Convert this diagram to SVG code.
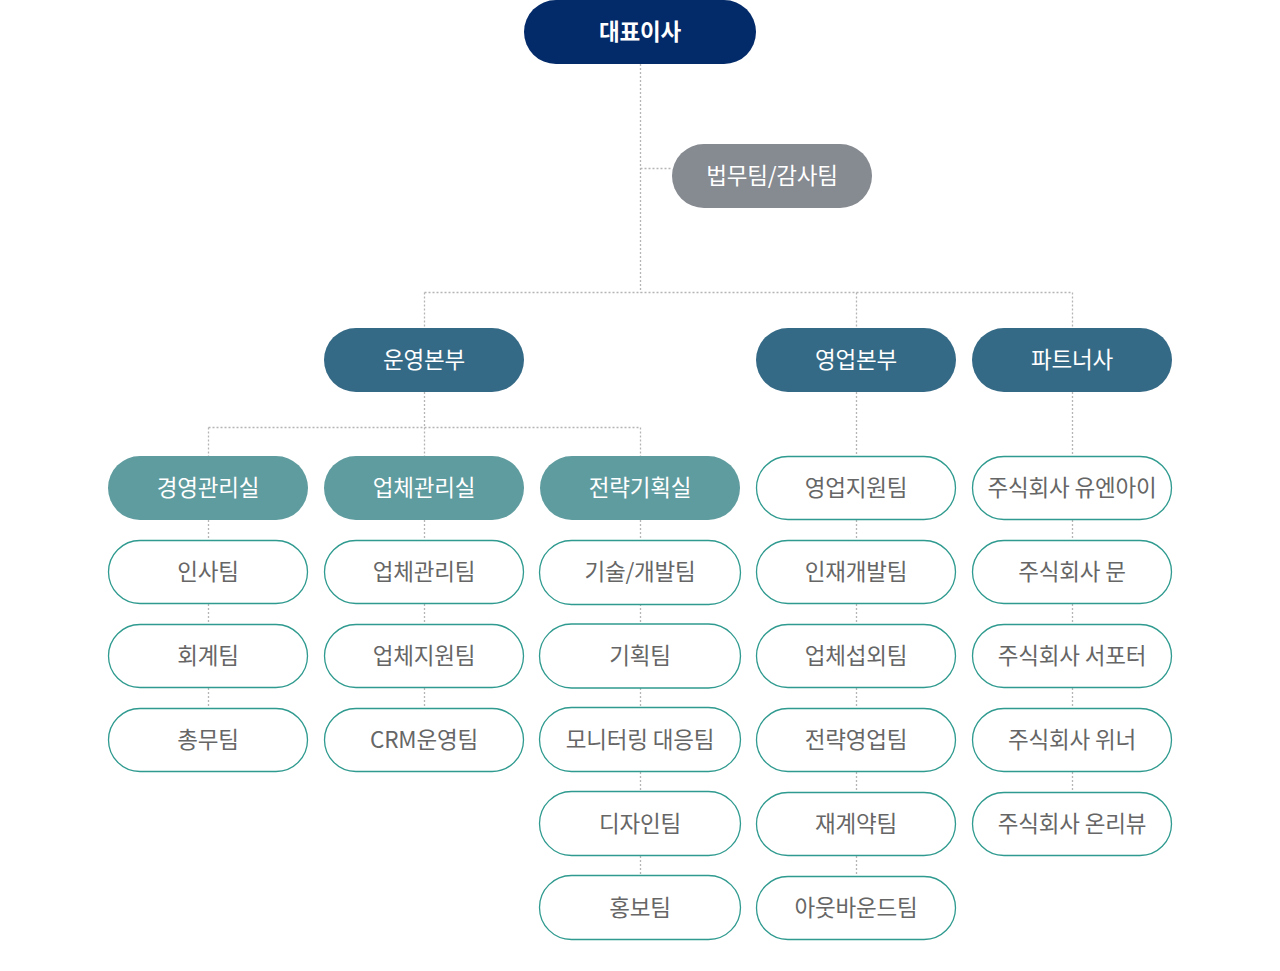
<svg xmlns="http://www.w3.org/2000/svg" width="1280" height="971" viewBox="0 0 1280 971">
<style>
text{font-family:"Noto Sans CJK KR","Noto Sans",sans-serif;font-size:22.5px;text-anchor:middle;letter-spacing:-0.2px}
.ceo rect{fill:#032a69}
.ceo text{fill:#fff;font-weight:700}
.legal rect{fill:#868a91}
.legal text{fill:#fff}
.div rect{fill:#356a86}
.div text{fill:#fff}
.dept rect{fill:#5f9c9f}
.dept text{fill:#fff}
.team rect{fill:#fff;stroke:#2f9a8f;stroke-width:1.3}
.team text{fill:#666}
.con path{fill:none;stroke:#b5b5b5;stroke-width:1.3;stroke-dasharray:2 2}
</style>
<g class="con">
<path d="M640.5 64V292.5M640.5 168.5H672M424.5 292.5H1072.5M424.5 292.5V328M856.5 292.5V328M1072.5 292.5V328"/>
<path d="M424.5 392V427.5M208.5 427.5H640.5M208.5 427.5V456M424.5 427.5V456M640.5 427.5V456"/>
<path d="M856.5 392V456M1072.5 392V456"/>
<path d="M208.5 520V540M208.5 604V624M208.5 688V708"/>
<path d="M424.5 520V540M424.5 604V624M424.5 688V708"/>
<path d="M640.5 520V540M640.5 604V624M640.5 688V708M640.5 772V792M640.5 856V876"/>
<path d="M856.5 520V540M856.5 604V624M856.5 688V708M856.5 772V792M856.5 856V876"/>
<path d="M1072.5 520V540M1072.5 604V624M1072.5 688V708M1072.5 772V792"/>
</g>
<g id="n-ceo" class="ceo"><rect x="524" y="0" width="232" height="64" rx="32"/><text x="640" y="40">대표이사</text></g>
<g id="n-legal" class="legal"><rect x="672" y="144" width="200" height="64" rx="32"/><text x="772" y="184">법무팀/감사팀</text></g>
<g id="n-ops" class="div"><rect x="324" y="328" width="200" height="64" rx="32"/><text x="424" y="368">운영본부</text></g>
<g id="n-sales" class="div"><rect x="756" y="328" width="200" height="64" rx="32"/><text x="856" y="368">영업본부</text></g>
<g id="n-partner" class="div"><rect x="972" y="328" width="200" height="64" rx="32"/><text x="1072" y="368">파트너사</text></g>
<g id="n-mgmt" class="dept"><rect x="108" y="456" width="200" height="64" rx="32"/><text x="208" y="496">경영관리실</text></g>
<g id="n-vendor" class="dept"><rect x="324" y="456" width="200" height="64" rx="32"/><text x="424" y="496">업체관리실</text></g>
<g id="n-strategy" class="dept"><rect x="540" y="456" width="200" height="64" rx="32"/><text x="640" y="496">전략기획실</text></g>
<g id="n-hr" class="team"><rect x="108.5" y="540.5" width="199" height="63" rx="31.5"/><text x="208" y="580">인사팀</text></g>
<g id="n-acct" class="team"><rect x="108.5" y="624.5" width="199" height="63" rx="31.5"/><text x="208" y="664">회계팀</text></g>
<g id="n-general" class="team"><rect x="108.5" y="708.5" width="199" height="63" rx="31.5"/><text x="208" y="748">총무팀</text></g>
<g id="n-vmt" class="team"><rect x="324.5" y="540.5" width="199" height="63" rx="31.5"/><text x="424" y="580">업체관리팀</text></g>
<g id="n-vsup" class="team"><rect x="324.5" y="624.5" width="199" height="63" rx="31.5"/><text x="424" y="664">업체지원팀</text></g>
<g id="n-crm" class="team"><rect x="324.5" y="708.5" width="199" height="63" rx="31.5"/><text x="424" y="748">CRM운영팀</text></g>
<g id="n-tech" class="team"><rect x="539.5" y="540.5" width="201" height="64" rx="32"/><text x="640" y="580">기술/개발팀</text></g>
<g id="n-plan" class="team"><rect x="539.5" y="624" width="201" height="64" rx="32"/><text x="640" y="664">기획팀</text></g>
<g id="n-monitor" class="team"><rect x="539.5" y="707.5" width="201" height="64" rx="32"/><text x="640" y="748">모니터링 대응팀</text></g>
<g id="n-design" class="team"><rect x="539.5" y="791.5" width="201" height="64" rx="32"/><text x="640" y="832">디자인팀</text></g>
<g id="n-pr" class="team"><rect x="539.5" y="875.5" width="201" height="64" rx="32"/><text x="640" y="916">홍보팀</text></g>
<g id="n-ssup" class="team"><rect x="756.5" y="456.5" width="199" height="63" rx="31.5"/><text x="856" y="496">영업지원팀</text></g>
<g id="n-talent" class="team"><rect x="756.5" y="540.5" width="199" height="63" rx="31.5"/><text x="856" y="580">인재개발팀</text></g>
<g id="n-vneg" class="team"><rect x="756.5" y="624.5" width="199" height="63" rx="31.5"/><text x="856" y="664">업체섭외팀</text></g>
<g id="n-ssales" class="team"><rect x="756.5" y="708.5" width="199" height="63" rx="31.5"/><text x="856" y="748">전략영업팀</text></g>
<g id="n-renew" class="team"><rect x="756.5" y="792.5" width="199" height="63" rx="31.5"/><text x="856" y="832">재계약팀</text></g>
<g id="n-out" class="team"><rect x="756.5" y="876.5" width="199" height="63" rx="31.5"/><text x="856" y="916">아웃바운드팀</text></g>
<g id="n-p1" class="team"><rect x="972.5" y="456.5" width="199" height="63" rx="31.5"/><text x="1072" y="496">주식회사 유엔아이</text></g>
<g id="n-p2" class="team"><rect x="972.5" y="540.5" width="199" height="63" rx="31.5"/><text x="1072" y="580">주식회사 문</text></g>
<g id="n-p3" class="team"><rect x="972.5" y="624.5" width="199" height="63" rx="31.5"/><text x="1072" y="664">주식회사 서포터</text></g>
<g id="n-p4" class="team"><rect x="972.5" y="708.5" width="199" height="63" rx="31.5"/><text x="1072" y="748">주식회사 위너</text></g>
<g id="n-p5" class="team"><rect x="972.5" y="792.5" width="199" height="63" rx="31.5"/><text x="1072" y="832">주식회사 온리뷰</text></g>
</svg>
